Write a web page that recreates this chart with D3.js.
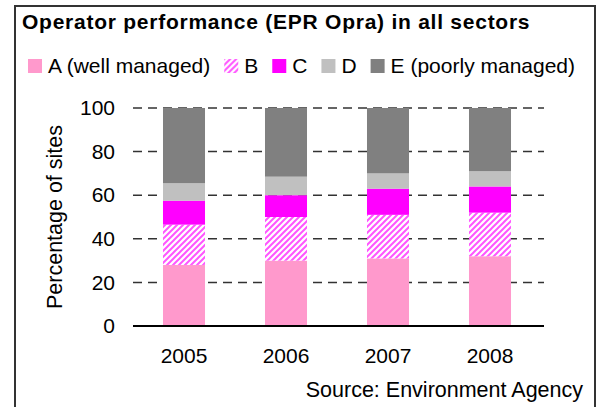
<!DOCTYPE html>
<html>
<head>
<meta charset="utf-8">
<script src="https://cdn.jsdelivr.net/npm/d3@7"></script>
<style>
  body { margin: 0; background: #fff; }
  svg text { font-family: 'Liberation Sans', Arial, sans-serif; fill: #000; }
</style>
</head>
<body>
<div id="app"></div>
<script>
(function (d3) {

  'use strict'

  // data (percent of sites per band)
  const years = ['2005', '2006', '2007', '2008']
  const bandA = [28, 30, 31, 32]
  const bandB = [18.5, 20, 20, 20]
  const bandC = [11, 10, 12, 12]
  const bandD = [8, 8.5, 7, 7]
  const bandE = [34.5, 31.5, 30, 29]
  const yTicks = [0, 20, 40, 60, 80, 100]

  const keys = ['A', 'B', 'C', 'D', 'E']
  const labels = ['A (well managed)', 'B', 'C', 'D', 'E (poorly managed)']
  const colors = ['#ff99cc', 'url(#stripes)', '#ff00ff', '#c0c0c0', '#808080']

  const rows = years.map(function (y, i) {
    return { year: y, A: bandA[i], B: bandB[i], C: bandC[i], D: bandD[i], E: bandE[i] }
  })

  const w = 602
  const h = 407
  const left = 133
  const right = 541
  const top = 108
  const bottom = 326
  const font = "'Liberation Sans', Arial, sans-serif"

  const svg = d3.select('#app')
    .append('svg')
    .attr('width', w)
    .attr('height', h)

  // stripe pattern for band B
  const pat = svg.append('defs').append('pattern')
    .attr('id', 'stripes')
    .attr('patternUnits', 'userSpaceOnUse')
    .attr('width', 6)
    .attr('height', 6)
  pat.append('rect').attr('width', 6).attr('height', 6).attr('fill', '#fff')
  pat.append('path')
    .attr('d', 'M-1,7 L7,-1 M-4,4 L4,-4 M2,10 L10,2')
    .attr('stroke', '#ff55ff')
    .attr('stroke-width', 2)

  // outer frame
  svg.append('rect')
    .attr('x', 15)
    .attr('y', 6)
    .attr('width', 580)
    .attr('height', 410)
    .attr('fill', 'none')
    .attr('stroke', '#333')
    .attr('stroke-width', 2)

  // make title
  svg.append('text')
    .attr('x', 22)
    .attr('y', 29)
    .style('font-size', '21px')
    .style('font-weight', 'bold')
    .style('letter-spacing', '0.75px')
    .text('Operator performance (EPR Opra) in all sectors')

  // scales
  const xScale = d3.scaleBand()
    .domain(years)
    .range([left, right])
    .paddingInner(0.588)
    .paddingOuter(0.294)

  const yScale = d3.scaleLinear()
    .domain([0, 100])
    .range([bottom, top])

  // dashed gridlines
  svg.append('g')
    .selectAll('line')
    .data(yTicks.filter(d => d > 0))
    .enter()
    .append('line')
    .attr('x1', left)
    .attr('x2', right + 3)
    .attr('y1', d => yScale(d))
    .attr('y2', d => yScale(d))
    .attr('stroke', '#333')
    .attr('stroke-width', 1.5)
    .attr('stroke-dasharray', '9,6')

  // stacked bars
  const stack = d3.stack().keys(keys)(rows)
  svg.append('g')
    .selectAll('g')
    .data(stack)
    .enter()
    .append('g')
    .attr('fill', (d, i) => colors[i])
    .selectAll('rect')
    .data(d => d)
    .enter()
    .append('rect')
    .attr('x', d => xScale(d.data.year))
    .attr('y', d => yScale(d[1]))
    .attr('width', xScale.bandwidth())
    .attr('height', d => yScale(d[0]) - yScale(d[1]))

  // make y-axis labels
  const yAxis = d3.axisLeft(yScale).tickValues(yTicks).tickSize(0).tickPadding(18)
  const yg = svg.append('g')
    .attr('transform', 'translate(' + left + ',0)')
    .call(yAxis)
  yg.select('.domain').remove()
  yg.selectAll('text')
    .style('font-size', '21px')
    .style('font-family', font)
    .attr('fill', '#000')

  // make x-axis
  const xAxis = d3.axisBottom(xScale).tickSize(0).tickPadding(22)
  const xg = svg.append('g')
    .attr('transform', 'translate(0,' + bottom + ')')
    .call(xAxis)
  xg.select('.domain')
    .attr('d', 'M' + left + ',0H' + (right + 3))
    .attr('stroke', '#000')
    .attr('stroke-width', 2)
  xg.selectAll('text')
    .style('font-size', '21px')
    .style('font-family', font)
    .attr('fill', '#000')

  // y label
  svg.append('text')
    .attr('transform', 'translate(62,' + ((top + bottom) / 2) + ') rotate(-90)')
    .attr('text-anchor', 'middle')
    .style('font-size', '21.5px')
    .text('Percentage of sites')

  // source note
  svg.append('text')
    .attr('x', 583)
    .attr('y', 397)
    .attr('text-anchor', 'end')
    .style('font-size', '21.5px')
    .text('Source: Environment Agency')

  // make legend
  const legend = svg.append('g').attr('transform', 'translate(28,59)')
  let lx = 0
  labels.forEach(function (label, i) {
    const item = legend.append('g').attr('transform', 'translate(' + lx + ',0)')
    item.append('rect')
      .attr('width', 14)
      .attr('height', 14)
      .attr('fill', colors[i])
    const t = item.append('text')
      .attr('x', 20)
      .attr('y', 14)
      .style('font-size', '21px')
      .text(label)
    lx += 20 + t.node().getComputedTextLength() + 14
  })

}(d3))
</script>
</body>
</html>
